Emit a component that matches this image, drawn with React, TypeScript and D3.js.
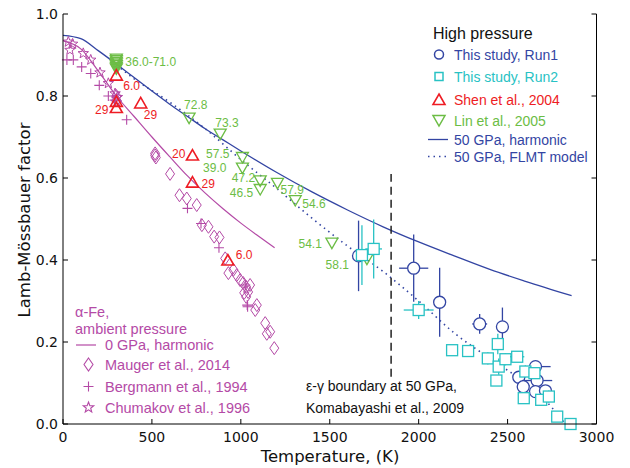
import React from "react";
import * as d3 from "d3";

const W = 630;
const H = 468;

const xTicks = [0, 500, 1000, 1500, 2000, 2500, 3000];
const yTicks = [0, 0.2, 0.4, 0.6, 0.8, 1.0];

// model curves [T, f]
const harmonic50 = [
  [0, 0.948], [100, 0.94], [200, 0.91], [300, 0.878], [400, 0.845], [500, 0.812],
  [600, 0.78], [700, 0.75], [800, 0.72], [900, 0.693], [1000, 0.666], [1200, 0.614],
  [1400, 0.566], [1600, 0.522], [1800, 0.481], [2000, 0.444], [2200, 0.41],
  [2400, 0.377], [2600, 0.348], [2860, 0.313],
];
const flmt50 = [
  [300, 0.876], [400, 0.842], [600, 0.785], [800, 0.72], [1000, 0.645], [1200, 0.575],
  [1400, 0.502], [1600, 0.434], [1800, 0.372], [2000, 0.3], [2200, 0.222],
  [2400, 0.16], [2600, 0.1], [2700, 0.063], [2825, 0.0],
];
const harmonic0 = [
  [0, 0.935], [100, 0.915], [200, 0.86], [300, 0.8], [400, 0.75], [500, 0.7],
  [600, 0.652], [700, 0.605], [800, 0.563], [900, 0.525], [1000, 0.49],
  [1100, 0.458], [1190, 0.43],
];
const boundaryT = 1845;
const boundaryF = [0.115, 0.61];

// this study: [T, f, xerr, yerr]
const run1 = [
  [1662, 0.41, 30, 0.086], [1972, 0.38, 82, 0.082], [2118, 0.297, 35, 0.084],
  [2343, 0.244, 42, 0.024], [2471, 0.237, 30, 0.047], [2657, 0.14, 85, 0.012],
  [2563, 0.114, 25, 0.012], [2666, 0.106, 85, 0.012], [2588, 0.091, 20, 0.01],
  [2657, 0.079, 20, 0.01], [2713, 0.081, 30, 0.012],
];
const run2 = [
  [1681, 0.412, 20, 0.073], [1747, 0.427, 47, 0.072], [2000, 0.278, 84, 0.022],
  [2188, 0.18, 20, 0.01], [2278, 0.178, 20, 0.01], [2389, 0.16, 25, 0.015],
  [2445, 0.195, 15, 0.025], [2450, 0.14, 25, 0.02], [2488, 0.158, 30, 0.015],
  [2554, 0.164, 40, 0.012], [2437, 0.106, 10, 0.01], [2600, 0.128, 30, 0.015],
  [2651, 0.124, 20, 0.01], [2591, 0.063, 20, 0.01], [2689, 0.059, 20, 0.015],
  [2732, 0.067, 20, 0.015], [2779, 0.018, 20, 0.012], [2854, 0.0, 15, 0.01],
];

// literature, high pressure: [T, f], labels in GPa
const shen = [[300, 0.851], [300, 0.787], [300, 0.772], [437, 0.783], [728, 0.656], [728, 0.59], [927, 0.4]];
const shenLabels = ["6.0", "", "29", "29", "20", "29", "6.0"];
const shenLabelPos = [[7, 11, "start"], [0, 0, "start"], [-8, 2, "end"], [3, 12, "start"], [-7, -1, "end"], [9, 1.5, "start"], [8, -5, "start"]];

const lin = [
  [300, 0.89], [300, 0.886], [300, 0.882], [300, 0.878], [300, 0.874], [300, 0.87], [300, 0.866],
  [709, 0.746], [884, 0.707], [1009, 0.65], [1009, 0.624], [1109, 0.593], [1109, 0.572],
  [1206, 0.587], [1306, 0.545], [1512, 0.441], [1709, 0.402],
];
const linLabels = ["", "", "36.0-71.0", "", "", "", "", "72.8", "73.3", "57.5", "39.0", "47.2", "46.5", "57.9", "54.6", "54.1", "58.1"];
const linLabelPos = [
  [0, 0, "start"], [0, 0, "start"], [9, -1, "start"], [0, 0, "start"], [0, 0, "start"], [0, 0, "start"], [0, 0, "start"],
  [-5, -13, "start"], [-5, -11, "start"], [-13, -3.5, "end"], [-16, 0, "end"], [-5, -3, "end"], [-7, 3, "end"],
  [3, 6, "start"], [7, 3, "start"], [-10, 1, "end"], [-18, 6, "end"],
];

// alpha-Fe, ambient pressure
const mauger = [
  [300, 0.8], [300, 0.79], [518, 0.66], [518, 0.655], [522, 0.65], [602, 0.61], [655, 0.558],
  [696, 0.55], [752, 0.534], [781, 0.485], [818, 0.481], [850, 0.457], [880, 0.455],
  [912, 0.404], [930, 0.368], [958, 0.376], [977, 0.363], [996, 0.351], [1013, 0.344],
  [1030, 0.334], [1019, 0.32], [1041, 0.322], [1030, 0.31], [1052, 0.339], [1090, 0.29],
  [1081, 0.278], [1137, 0.246], [1165, 0.225], [1146, 0.22], [1188, 0.185],
];
const bergmann = [
  [22, 0.888], [58, 0.888], [105, 0.871], [156, 0.855], [204, 0.826], [255, 0.8],
  [290, 0.79], [358, 0.742], [700, 0.526], [776, 0.489], [877, 0.43], [1025, 0.339],
  [1036, 0.29], [1038, 0.286],
];
const chumakov = [
  [30, 0.932], [54, 0.927], [39, 0.912], [114, 0.904], [156, 0.888], [208, 0.857],
  [255, 0.831], [293, 0.806], [306, 0.797], [302, 0.784],
];

const BLUE = "#3345a3";
const CYAN = "#28c2c4";
const RED = "#ee1c24";
const GREEN = "#6cbd45";
const MAG = "#b44aa6";
const ARIAL = "Liberation Sans, Arial, sans-serif";
const DEJAVU = "DejaVu Sans, sans-serif";

const x = d3.scaleLinear().domain([0, 3000]).range([63, 596.5]);
const y = d3.scaleLinear().domain([0, 1]).range([424, 14]);

const triUp = (cx: number, cy: number) => `M${cx},${cy - 5.5}L${cx + 6},${cy + 5}L${cx - 6},${cy + 5}Z`;
const triDown = (cx: number, cy: number) => `M${cx - 6},${cy - 5}L${cx + 6},${cy - 5}L${cx},${cy + 5.5}Z`;
const diamond = (cx: number, cy: number) => `M${cx},${cy - 6.5}L${cx + 4.5},${cy}L${cx},${cy + 6.5}L${cx - 4.5},${cy}Z`;
const cross = (cx: number, cy: number) => `M${cx - 5},${cy}H${cx + 5}M${cx},${cy - 5}V${cy + 5}`;
const star = (cx: number, cy: number) => {
  const pts: string[] = [];
  for (let i = 0; i < 10; i++) {
    const r = i % 2 === 0 ? 5.5 : 2.3;
    const a = -Math.PI / 2 + (i * Math.PI) / 5;
    pts.push(`${cx + r * Math.cos(a)},${cy + r * Math.sin(a)}`);
  }
  return `M${pts.join("L")}Z`;
};

const line = d3
  .line<number[]>()
  .x((d) => x(d[0]))
  .y((d) => y(d[1]))
  .curve(d3.curveMonotoneX);

const ErrPoints = ({ data, color, shape }: { data: number[][]; color: string; shape: string }) => (
  <g>
    {data.map((d, i) => {
      const cx = x(d[0]);
      const cy = y(d[1]);
      return (
        <g key={i}>
          <line x1={x(d[0] - d[2])} x2={x(d[0] + d[2])} y1={cy} y2={cy} stroke={color} strokeWidth={1.3} />
          <line x1={cx} x2={cx} y1={y(d[1] - d[3])} y2={y(d[1] + d[3])} stroke={color} strokeWidth={1.3} />
          {shape === "circle" ? (
            <circle cx={cx} cy={cy} r={6} fill="white" stroke={color} strokeWidth={1.3} />
          ) : (
            <rect x={cx - 5.5} y={cy - 5.5} width={11} height={11} fill="white" stroke={color} strokeWidth={1.3} />
          )}
        </g>
      );
    })}
  </g>
);

export default function App() {
  return (
    <svg width={W} height={H} style={{ position: "absolute", left: 0, top: 0, background: "white" }}>
      {/* model curves */}
      <path d={line(harmonic50) || ""} fill="none" stroke={BLUE} strokeWidth={1.3} />
      <path d={line(flmt50) || ""} fill="none" stroke={BLUE} strokeWidth={1.6} strokeDasharray="1.5 4" />
      <path d={line(harmonic0) || ""} fill="none" stroke={MAG} strokeWidth={1.2} />
      <line x1={x(boundaryT)} x2={x(boundaryT)} y1={y(boundaryF[0])} y2={y(boundaryF[1])} stroke="#222" strokeWidth={1.5} strokeDasharray="8 5" />

      {/* alpha-Fe */}
      {mauger.map((d, i) => (
        <path key={"m" + i} d={diamond(x(d[0]), y(d[1]))} fill="none" stroke={MAG} strokeWidth={1} />
      ))}
      {bergmann.map((d, i) => (
        <path key={"b" + i} d={cross(x(d[0]), y(d[1]))} fill="none" stroke={MAG} strokeWidth={1.1} />
      ))}
      {chumakov.map((d, i) => (
        <path key={"c" + i} d={star(x(d[0]), y(d[1]))} fill="none" stroke={MAG} strokeWidth={1} />
      ))}

      {/* high pressure literature */}
      {lin.map((d, i) => (
        <path key={"l" + i} d={triDown(x(d[0]), y(d[1]))} fill="none" stroke={GREEN} strokeWidth={1.3} />
      ))}
      {shen.map((d, i) => (
        <path key={"s" + i} d={triUp(x(d[0]), y(d[1]))} fill="none" stroke={RED} strokeWidth={1.6} />
      ))}
      <g fontFamily={ARIAL} fontSize={12}>
        {lin.map((d, i) =>
          linLabels[i] ? (
            <text key={"lt" + i} x={x(d[0]) + (linLabelPos[i][0] as number)} y={y(d[1]) + (linLabelPos[i][1] as number)}
              dy="0.35em" textAnchor={linLabelPos[i][2] as string} fill={GREEN}>{linLabels[i]}</text>
          ) : null
        )}
        {shen.map((d, i) =>
          shenLabels[i] ? (
            <text key={"st" + i} x={x(d[0]) + (shenLabelPos[i][0] as number)} y={y(d[1]) + (shenLabelPos[i][1] as number)}
              dy="0.35em" textAnchor={shenLabelPos[i][2] as string} fill={RED}>{shenLabels[i]}</text>
          ) : null
        )}
      </g>

      {/* this study */}
      <ErrPoints data={run1} color={BLUE} shape="circle" />
      <ErrPoints data={run2} color={CYAN} shape="square" />

      {/* axes */}
      <g stroke="black" strokeWidth={1} fill="none">
        <line x1={x(0)} x2={x(0)} y1={y(0)} y2={y(1)} />
        <line x1={x(3000)} x2={x(3000)} y1={y(0)} y2={y(1)} />
        <line x1={x(0)} x2={x(3000)} y1={y(0)} y2={y(0)} />
        {xTicks.map((t) => (
          <line key={"xt" + t} x1={x(t)} x2={x(t)} y1={y(0)} y2={y(0) - 5} />
        ))}
        {yTicks.map((t) => (
          <g key={"yt" + t}>
            <line x1={x(0)} x2={x(0) + 5} y1={y(t)} y2={y(t)} />
            <line x1={x(3000)} x2={x(3000) - 5} y1={y(t)} y2={y(t)} />
          </g>
        ))}
      </g>
      <g fontFamily={DEJAVU} fontSize={14} fill="#111">
        {xTicks.map((t) => (
          <text key={"xl" + t} x={x(t)} y={y(0) + 18} textAnchor="middle">{t}</text>
        ))}
        {yTicks.map((t) => (
          <text key={"yl" + t} x={x(0) - 5} y={y(t)} dy="0.35em" textAnchor="end">{t.toFixed(1)}</text>
        ))}
        <text x={330} y={462} textAnchor="middle" fontSize={16.5}>Temperature, (K)</text>
        <text transform="translate(30,220) rotate(-90)" textAnchor="middle" fontSize={16.5}>Lamb-Mössbauer factor</text>
      </g>

      {/* annotation */}
      <g fontFamily={ARIAL} fontSize={14} fill="#111">
        <text x={306} y={391}>ε-γ boundary at 50 GPa,</text>
        <text x={306} y={413}>Komabayashi et al., 2009</text>
      </g>

      {/* high pressure legend */}
      <g fontFamily={ARIAL} fontSize={14}>
        <text x={433} y={39} fontSize={16} fill="#111">High pressure</text>
        <circle cx={439} cy={54.5} r={4.5} fill="white" stroke={BLUE} strokeWidth={1.5} />
        <text x={454} y={59.5} fill={BLUE}>This study, Run1</text>
        <rect x={435} y={72.5} width={8} height={8} fill="white" stroke={CYAN} strokeWidth={1.5} />
        <text x={454} y={82} fill={CYAN}>This study, Run2</text>
        <path d={triUp(439, 99.5)} fill="none" stroke={RED} strokeWidth={1.6} />
        <text x={454} y={104.5} fill={RED}>Shen et al., 2004</text>
        <path d={triDown(439, 120.5)} fill="none" stroke={GREEN} strokeWidth={1.5} />
        <text x={454} y={125.5} fill={GREEN}>Lin et al., 2005</text>
        <line x1={428} x2={448} y1={139.5} y2={139.5} stroke={BLUE} strokeWidth={1.3} />
        <text x={454} y={144.5} fill={BLUE}>50 GPa, harmonic</text>
        <line x1={428} x2={450} y1={156.5} y2={156.5} stroke={BLUE} strokeWidth={1.6} strokeDasharray="1.5 4" />
        <text x={454} y={161.5} fill={BLUE}>50 GPa, FLMT model</text>
      </g>

      {/* ambient pressure legend */}
      <g fontFamily={ARIAL} fontSize={14.5} fill={MAG}>
        <text x={75} y={317}>α-Fe,</text>
        <text x={75} y={334}>ambient pressure</text>
        <line x1={76} x2={96} y1={345} y2={345} stroke={MAG} strokeWidth={1.2} />
        <text x={105} y={350}>0 GPa, harmonic</text>
        <path d={diamond(88.5, 364.5)} fill="none" stroke={MAG} strokeWidth={1.1} />
        <text x={105} y={369.5}>Mauger et al., 2014</text>
        <path d={cross(88.5, 386.5)} fill="none" stroke={MAG} strokeWidth={1.1} />
        <text x={105} y={391.5}>Bergmann et al., 1994</text>
        <path d={star(88.5, 407.5)} fill="none" stroke={MAG} strokeWidth={1.1} />
        <text x={105} y={412.5}>Chumakov et al., 1996</text>
      </g>
    </svg>
  );
}
